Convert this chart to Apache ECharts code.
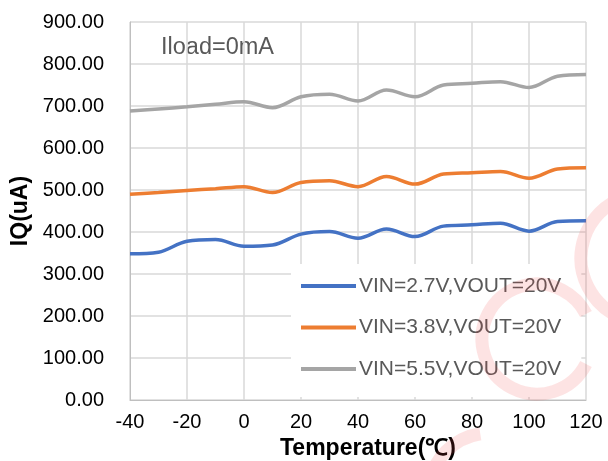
<!DOCTYPE html>
<html><head><meta charset="utf-8">
<script src="https://cdn.jsdelivr.net/npm/echarts@6/dist/echarts.min.js"></script>
<style>html,body{margin:0;padding:0;background:#fff}#c{width:608px;height:461px}</style>
</head><body><div id="c"></div>
<script>
const temps = [-40,-30,-20,-10,0,10,20,30,40,50,60,70,80,90,100,110,120];
const vin27 = [348,352,378,382,366,369,395,401,385,407,389,414,417,421,402,425,427];
const vin38 = [490,494,499,503,508,494,518,522,508,532,514,538,541,544,528,550,553];
const vin55 = [688,693,698,704,710,696,722,728,712,738,722,750,754,758,744,771,775];
const seriesNames = ['VIN=2.7V,VOUT=20V','VIN=3.8V,VOUT=20V','VIN=5.5V,VOUT=20V'];
const colors = ['#4472C4','#ED7D31','#A5A5A5'];
const FONT = 'Liberation Sans, Arial, sans-serif';
const pairs = arr => temps.map((t,i)=>[t,arr[i]]);
const chart = echarts.init(document.getElementById('c'));
const wm = 'rgba(240,70,70,0.15)';
chart.setOption({
  animation:false,
  textStyle:{fontFamily:FONT},
  grid:{left:130,right:22,top:22,bottom:61,containLabel:false,outerBoundsMode:'none'},
  xAxis:{type:'value',min:-40,max:120,interval:20,
    name:'Temperature(℃)',nameLocation:'middle',nameGap:35,
    nameTextStyle:{fontFamily:FONT,fontWeight:'bold',fontSize:23,color:'#000',padding:[0,0,0,20]},
    axisLine:{show:true,onZero:false,lineStyle:{color:'#BFBFBF',width:1}},
    axisTick:{show:false},
    axisLabel:{fontSize:20,color:'#000',margin:12,fontFamily:FONT},
    splitLine:{show:true,lineStyle:{color:'#D9D9D9',width:1.5}}},
  yAxis:{type:'value',min:0,max:900,interval:100,
    name:'IQ(uA)',nameLocation:'middle',nameGap:98,
    nameTextStyle:{fontFamily:FONT,fontWeight:'bold',fontSize:23,color:'#000'},
    axisLine:{show:true,onZero:false,lineStyle:{color:'#BFBFBF',width:1}},
    axisTick:{show:false},
    axisLabel:{fontSize:20,color:'#000',margin:26,fontFamily:FONT,formatter:v=>v.toFixed(2)},
    splitLine:{show:true,lineStyle:{color:'#D9D9D9',width:1.5}}},
  legend:{orient:'vertical',left:291,top:264,padding:[10,20,16,10],
    backgroundColor:'#fff',itemWidth:55,itemHeight:4,itemGap:17.5,
    icon:'rect',
    textStyle:{fontSize:21,color:'#595959',fontFamily:FONT,lineHeight:24,padding:[0,0,0,-2]},
    data:seriesNames},
  series:[vin27,vin38,vin55].map((arr,i)=>({
    name:seriesNames[i],type:'line',data:pairs(arr),smooth:0.35,
    symbol:'none',lineStyle:{width:3.5,color:colors[i]},itemStyle:{color:colors[i]},z:2})),
  graphic:[
    {type:'text',left:161,top:36,style:{text:'Iload=0mA',fontSize:23.5,fill:'#595959',fontFamily:FONT}},
    {type:'arc',z:100,shape:{cx:537,cy:339,r:55,startAngle:Math.PI*0.15,endAngle:Math.PI*1.85},style:{stroke:wm,lineWidth:13,fill:null}},
    {type:'arc',z:100,shape:{cx:645,cy:258,r:64,startAngle:Math.PI*0.6,endAngle:Math.PI*1.4},style:{stroke:wm,lineWidth:13,fill:null}},
    {type:'arc',z:100,shape:{cx:490,cy:495,r:62,startAngle:Math.PI*1.05,endAngle:Math.PI*1.45},style:{stroke:wm,lineWidth:13,fill:null}}
  ]
});
</script></body></html>
